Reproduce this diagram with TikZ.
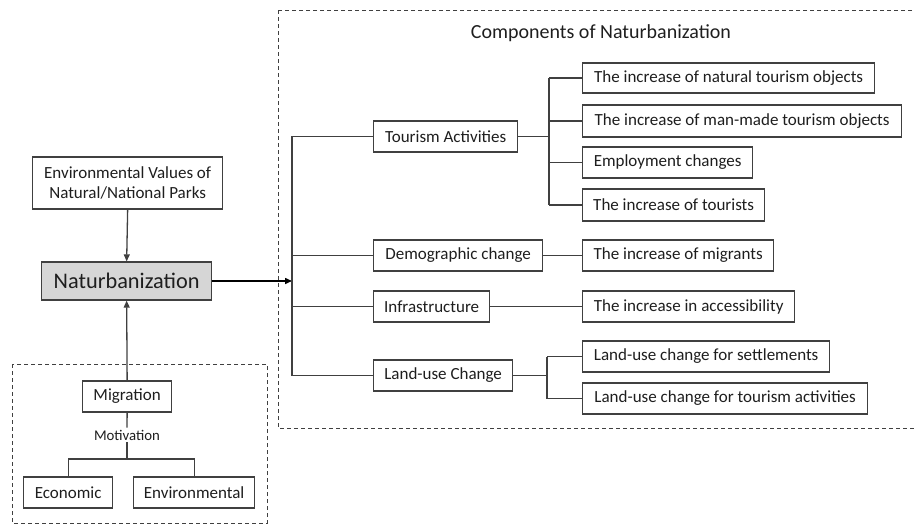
\documentclass[tikz,border=0pt]{standalone}
\usepackage{fontspec}
\setmainfont{Carlito}
\usetikzlibrary{arrows.meta}
\definecolor{linecol}{HTML}{404040}
\definecolor{txtcol}{HTML}{1E1E1E}
\definecolor{natfill}{HTML}{D6D6D6}
\begin{document}
\begin{tikzpicture}[x=1pt,y=-1pt,
  every node/.style={text=txtcol},
  bx/.style={draw=linecol, line width=1.3pt, fill=white, anchor=west, inner xsep=0pt, inner ysep=0pt,
     minimum height=31pt, font=\fontsize{17}{19.5}\selectfont},
  conn/.style={draw=linecol, line width=1.3pt},
  arr/.style={conn, -{Triangle[length=7pt,width=6pt]}},
  dbox/.style={draw=linecol, line width=1pt, dash pattern=on 4pt off 3pt}]
\useasboundingbox (0,0) rectangle (915,525);
% dashed frames
\draw[dbox] (12,364) rectangle (267,523);
\draw[dbox] (278,10) rectangle (940,428);
\node[font=\fontsize{20}{23}\selectfont] (title) at (601,33) {Components of Naturbanization};
% left column
\node[bx, minimum width=190pt, minimum height=52pt, align=center] (env) at (32,183)
  {Environmental Values of\\Natural/National Parks};
\node[bx, fill=natfill, minimum width=170pt, minimum height=38pt, font=\fontsize{22.3}{25}\selectfont] (nat) at (41,281) {Naturbanization};
\node[bx, minimum width=89pt] (mig) at (82,396.5) {Migration};
\node[font=\fontsize{14.8}{17}\selectfont, inner sep=2pt] (mot) at (127,435) {Motivation};
\node[bx, minimum width=89pt] (eco) at (23,492.5) {Economic};
\node[bx, minimum width=121pt] (envl) at (133,492.5) {Environmental};
\coordinate (br) at (127,459);
% middle column
\node[bx, minimum width=144pt] (tour) at (373,136.5) {Tourism Activities};
\node[bx, minimum width=169pt] (demo) at (373,255.5) {Demographic change};
\node[bx, minimum width=116pt] (infra) at (373,306.5) {Infrastructure};
\node[bx, minimum width=139pt] (land) at (373,375.5) {Land-use Change};
% right column
\node[bx, minimum width=292pt, minimum height=30pt] (r1) at (582,78) {The increase of natural tourism objects};
\node[bx, minimum width=319pt, minimum height=32pt] (r2) at (582,121) {The increase of man-made tourism objects};
\node[bx, minimum width=170pt] (r3) at (582,162.5) {Employment changes};
\node[bx, minimum width=182pt, minimum height=32pt] (r4) at (582,205) {The increase of tourists};
\node[bx, minimum width=191pt] (r5) at (582,255.5) {The increase of migrants};
\node[bx, minimum width=212pt] (r6) at (582,306.5) {The increase in accessibility};
\node[bx, minimum width=247pt] (r7) at (582,356.5) {Land-use change for settlements};
\node[bx, minimum width=285pt] (r8) at (582,398.5) {Land-use change for tourism activities};
% trunk coordinates
\coordinate (tk) at (292,136.5);
\coordinate (st) at (549,78);
\coordinate (lt) at (547,356.5);
% connectors
\draw[arr] (env.south) -- (nat.north);
\draw[arr] (mig.north) -- (nat.south);
\draw[conn] (mig.south) -- (mot.north);
\draw[conn] (mot.south) -- (br);
\draw[conn] (eco.north) -- (eco.north |- br) -- (envl.north |- br) -- (envl.north);
\draw[arr, draw=black, line width=1.5pt] (nat.east) -- (nat.east -| tk);
\draw[conn] (tour.west) -- (tk) -- (land.west -| tk) -- (land.west);
\draw[conn] (demo.west) -- (demo.west -| tk);
\draw[conn] (infra.west) -- (infra.west -| tk);
\draw[conn] (tour.east) -- (tour.east -| st);
\draw[conn] (st) -- (r4.west -| st);
\draw[conn] (r1.west) -- (st);
\draw[conn] (r2.west) -- (r2.west -| st);
\draw[conn] (r3.west) -- (r3.west -| st);
\draw[conn] (r4.west) -- (r4.west -| st);
\draw[conn] (demo.east) -- (r5.west);
\draw[conn] (infra.east) -- (r6.west);
\draw[conn] (land.east) -- (land.east -| lt);
\draw[conn] (lt) -- (r8.west -| lt);
\draw[conn] (r7.west) -- (lt);
\draw[conn] (r8.west) -- (r8.west -| lt);
\end{tikzpicture}
\end{document}
